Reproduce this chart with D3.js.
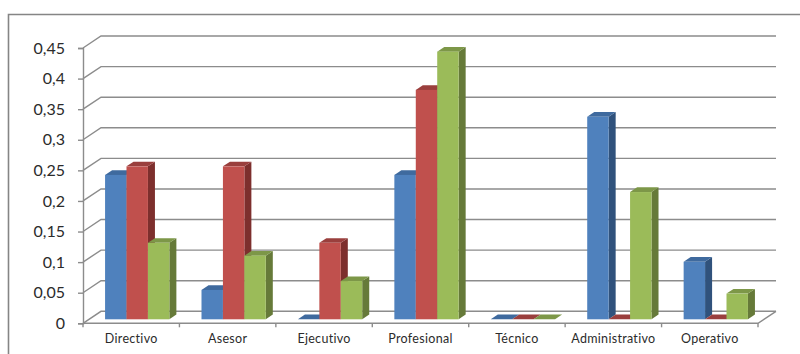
<!DOCTYPE html>
<html>
<head>
<meta charset="utf-8">
<script src="https://cdn.jsdelivr.net/npm/d3@7"></script>
<style>
  html, body { margin: 0; background: #fff; }
  svg { display: block; }
</style>
</head>
<body>
<svg id="chart" width="800" height="354"></svg>
<script>
var categories = ["Directivo", "Asesor", "Ejecutivo", "Profesional", "Técnico", "Administrativo", "Operativo"];
var seriesNames = ["a", "b", "c"];
var seriesA = [0.236, 0.048, 0, 0.236, 0, 0.331, 0.094];
var seriesB = [0.25, 0.25, 0.125, 0.375, 0, 0, 0];
var seriesC = [0.125, 0.104, 0.0625, 0.4375, 0, 0.208, 0.042];
var yTicks = [0, 0.05, 0.1, 0.15, 0.2, 0.25, 0.3, 0.35, 0.4, 0.45];

var fronts = ["#4f81bd", "#c0504d", "#9bbb59"];
var tops = ["#3f6a9e", "#9a3f3d", "#7d9748"];
var sides = ["#30527c", "#7d2f2d", "#667a39"];
var gridColor = "#8c8c8c";

var svg = d3.select("#chart");

var x = d3.scaleBand().domain(categories).range([83, 758]);
var y = d3.scaleLinear().domain([0, 0.45]).range([323.3, 48]);
// three touching bars with a 150% gap shared around them
var inner = d3.scaleBand().domain(seriesNames)
  .range([0, x.bandwidth()]).paddingOuter(0.75).paddingInner(0);

// oblique projection of the box: wall depth and where bars sit inside it
var depthX = 18, depthY = 12;
var barNear = 1 / 3, barDepth = 0.39;

svg.append("path")
  .attr("d", "M8.5,354V14.5H800")
  .attr("fill", "none").attr("stroke", "#858585").attr("stroke-width", 1.6);

// back wall gridlines and their slants down to the axis
var grid = svg.append("g").attr("fill", "none").attr("stroke", gridColor).attr("stroke-width", 1.4);
grid.selectAll("path").data(yTicks).enter().append("path")
  .attr("d", function(d) {
    var py = y(d);
    return "M83," + py + "L" + (83 + depthX) + "," + (py - depthY) + "H" + (758 + depthX);
  });

// floor edges
grid.append("path")
  .attr("d", "M83," + y(0) + "H758L" + (758 + depthX) + "," + (y(0) - depthY));

var axisY = svg.append("g").attr("transform", "translate(83,0)")
  .call(d3.axisLeft(y).tickValues(yTicks).tickSize(5).tickPadding(13)
    .tickFormat(function(d) { return String(d).replace(".", ","); }));
axisY.select(".domain").attr("stroke", gridColor).attr("stroke-width", 1.4);
axisY.selectAll("line").attr("stroke", gridColor).attr("stroke-width", 1.4);
axisY.selectAll("text").attr("fill", "#2b2b2b")
  .style("font-family", "Lato").style("font-size", "16px");

var axisX = svg.append("g").attr("transform", "translate(0," + y(0) + ")")
  .call(d3.axisBottom(x).tickSize(0).tickPadding(11));
axisX.select(".domain").remove();
axisX.selectAll("text").attr("fill", "#2b2b2b")
  .style("font-family", "Lato").style("font-size", "12.5px").style("letter-spacing", "0.3px");

// category separators below the floor
svg.append("g").selectAll("line").data(categories.concat(["end"])).enter().append("line")
  .attr("x1", function(d, i) { return 83 + i * x.step(); })
  .attr("x2", function(d, i) { return 83 + i * x.step(); })
  .attr("y1", y(0)).attr("y2", y(0) + 4)
  .attr("stroke", gridColor).attr("stroke-width", 1.4);

var rows = [];
categories.forEach(function(c, i) {
  [seriesA, seriesB, seriesC].forEach(function(vals, s) {
    rows.push({ cat: c, s: s, v: vals[i] });
  });
});

var bars = svg.append("g").selectAll("g").data(rows).enter().append("g");

function box(d) {
  var x0 = x(d.cat) + inner(seriesNames[d.s]) + depthX * barNear;
  var base = y(0) - depthY * barNear;
  return {
    x0: x0, x1: x0 + inner.bandwidth(), base: base,
    top: base - (y(0) - y(d.v)),
    dx: depthX * barDepth, dy: depthY * barDepth
  };
}

bars.append("path").attr("fill", function(d) { return sides[d.s]; })
  .attr("d", function(d) {
    var b = box(d);
    return "M" + b.x1 + "," + b.base + "V" + b.top + "l" + b.dx + "," + (-b.dy) +
      "V" + (b.base - b.dy) + "Z";
  });
bars.append("path").attr("fill", function(d) { return tops[d.s]; })
  .attr("d", function(d) {
    var b = box(d);
    return "M" + b.x0 + "," + b.top + "H" + b.x1 + "l" + b.dx + "," + (-b.dy) +
      "H" + (b.x0 + b.dx) + "Z";
  });
bars.append("rect").attr("fill", function(d) { return fronts[d.s]; })
  .attr("x", function(d) { return box(d).x0; })
  .attr("y", function(d) { return box(d).top; })
  .attr("width", inner.bandwidth())
  .attr("height", function(d) { var b = box(d); return b.base - b.top; });
</script>
</body>
</html>
